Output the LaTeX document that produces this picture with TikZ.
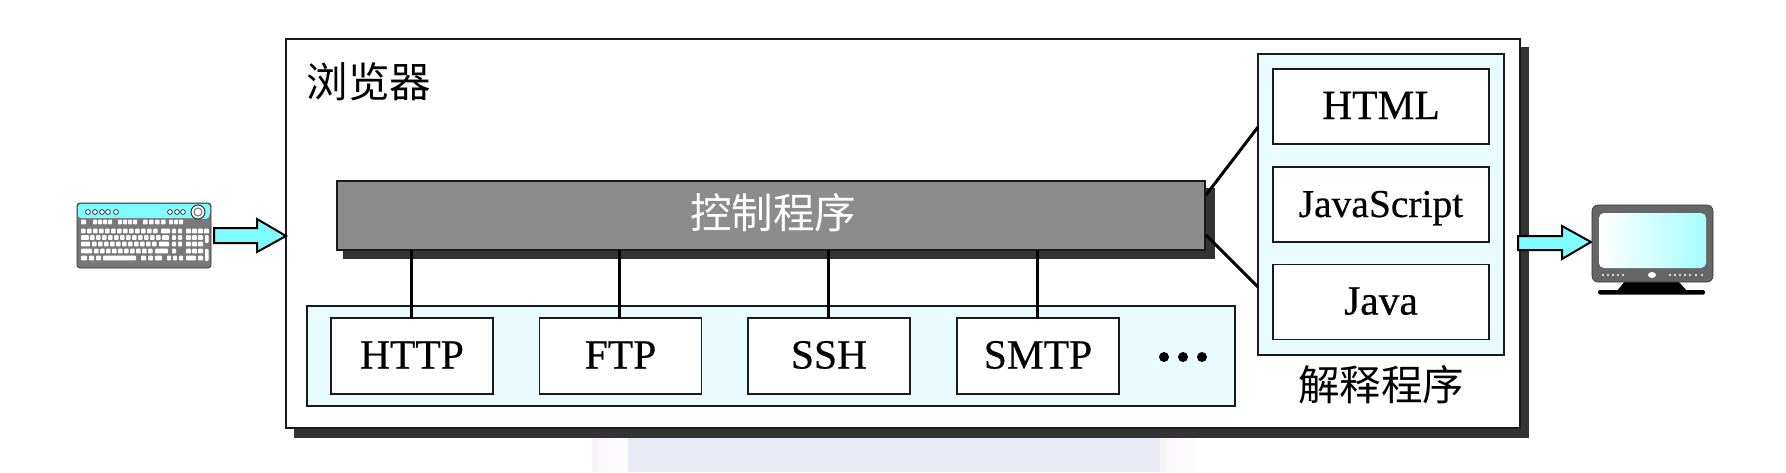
\documentclass[tikz,border=0pt]{standalone}
\usepackage{fontspec}
\setmainfont{Liberation Serif}
\newfontfamily\latinheavy{Liberation Serif}[FakeBold=0.5]
\newfontfamily\cjk{Noto Sans CJK SC}
\definecolor{paleCyan}{HTML}{E8FCFF}
\definecolor{arrowCyan}{HTML}{7FFCFF}
\definecolor{shadowGray}{HTML}{333333}
\definecolor{ctrlGray}{HTML}{8C8C8C}
\definecolor{edgeDark}{HTML}{1A1A1A}
\definecolor{markLav}{HTML}{E9E9F3}
\definecolor{markPale}{HTML}{F8F5F9}
\tikzset{
  x=1pt,y=-1pt,
  framebox/.style={draw=edgeDark,line width=1.6pt,rectangle,inner sep=0pt,outer sep=0pt},
  protobox/.style={framebox,fill=white,minimum width=162pt,minimum height=76pt,font=\latinheavy\fontsize{41.5}{41.5}\selectfont,text height=25pt,text depth=0pt},
  interpbox/.style={framebox,fill=white,minimum width=216pt,minimum height=75pt,font=\latinheavy\fontsize{41.5}{41.5}\selectfont,text height=25pt,text depth=0pt},
  panelbox/.style={framebox,fill=paleCyan},
  shadowbox/.style={fill=shadowGray},
  wire/.style={draw=black,line width=3pt},
  bigarrow/.style={draw=black,line width=2pt,fill=arrowCyan,line join=miter},
  cjklabel/.style={font=\cjk\fontsize{41.5}{41.5}\selectfont,inner sep=0pt},
  keycap/.style={fill=white,rounded corners=0.8pt},
}
\newcommand{\keyrow}[2]{\foreach \kx/\kw in {#2}{\fill[keycap] (\kx,#1-2.3) rectangle ++(\kw,4.6);}}
\begin{document}
\begin{tikzpicture}
\useasboundingbox (0,0) rectangle (1786,472);
\fill[white] (0,0) rectangle (1786,472);
% pale background mark
\foreach \st in {0,1,...,5}{
  \fill[markPale!\the\numexpr 100-\st*15\relax!white] (592+\st*6,430) rectangle ++(6.5,42);
}
\fill[markLav] (628,430) rectangle (1160,472);
\foreach \st in {0,1,...,5}{
  \fill[markPale!\the\numexpr 100-\st*15\relax!white] (1160+\st*6,430) rectangle ++(6.5,42);
}
% browser
\fill[shadowbox] (294,47) rectangle (1529,438);
\node[framebox,fill=white,minimum width=1234pt,minimum height=389pt] (browser) at (903,233.5) {};
\node[cjklabel] (browserlabel) at (369,82) {浏览器};
% lower band
\node[panelbox,minimum width=928pt,minimum height=100pt] (band) at (771,356) {};
% right panel
\node[panelbox,minimum width=246pt,minimum height=301pt] (panel) at (1381,204.5) {};
% protocol boxes
\node[protobox] (http) at (412,356) {HTTP};
\node[protobox] (ftp) at (620.5,356) {FTP};
\node[protobox] (ssh) at (829,356) {SSH};
\node[protobox] (smtp) at (1038,356) {SMTP};
% control bar
\fill[shadowbox] (343,188) rectangle (1215,259);
\node[framebox,fill=ctrlGray,minimum width=868pt,minimum height=69pt] (ctrl) at (771,215.5) {};
\node[cjklabel,text=white] (ctrllabel) at (773,213) {控制程序};
\draw[wire] ([xshift=-1pt]http.north) -- ([xshift=-1pt]ctrl.south -| http.north);
\draw[wire] ([xshift=-1pt]ftp.north) -- ([xshift=-1pt]ctrl.south -| ftp.north);
\draw[wire] ([xshift=-1pt]ssh.north) -- ([xshift=-1pt]ctrl.south -| ssh.north);
\draw[wire] ([xshift=-1pt]smtp.north) -- ([xshift=-1pt]ctrl.south -| smtp.north);
% connector end points on the control bar
\coordinate (ctrlup) at (1206,195);
\coordinate (ctrldown) at (1206,235);
\coordinate (panelup) at (1258,127);
\coordinate (paneldown) at (1258,287);
\draw[wire] (ctrlup) -- (panelup);
\draw[wire] (ctrldown) -- (paneldown);
% ellipsis
\node[circle,fill=black,minimum size=10pt,inner sep=0pt] (dota) at (1164,357) {};
\node[circle,fill=black,minimum size=10pt,inner sep=0pt] (dotb) at (1183,357) {};
\node[circle,fill=black,minimum size=10pt,inner sep=0pt] (dotc) at (1202,357) {};
% interpreters
\node[interpbox] (html) at (1381,106.5) {HTML};
\node[interpbox,font=\latinheavy\fontsize{39.5}{39.5}\selectfont] (js) at (1381,204.5) {JavaScript};
\node[interpbox] (java) at (1381,302) {Java};
\node[cjklabel] (interplabel) at (1381,385) {解释程序};
% input arrow
\draw[bigarrow] (214,228) -- (257,228) -- (257,219) -- (286,236) -- (257,252) -- (257,243) -- (214,243) -- cycle;
% output arrow
\draw[bigarrow] (1518,236) -- (1562,236) -- (1562,226) -- (1591,242) -- (1562,259) -- (1562,250) -- (1518,250) -- cycle;
% keyboard
\fill[gray!95!black,draw=shadowGray,line width=0.8pt,rounded corners=3pt] (77,203) rectangle (211,268);
\begin{scope}
\fill[arrowCyan,rounded corners=3pt] (78,204) -- (210,204) -- (210,214) .. controls (208,220) and (200,219) .. (190,218) -- (78,218) -- cycle;
\end{scope}
\foreach \cx in {88,95,102,108,116,170,177,183}{\draw[shadowGray,fill=white,line width=0.8pt] (\cx,212) circle (2.4);}
\draw[shadowGray,fill=white,line width=1pt] (198,212) circle (7);
\draw[gray,line width=1.2pt] (198,212) circle (4);
\keyrow{222}{81/5,93/4.2,98/4.2,103/4.2,108/4.2,118/4.2,123/4.2,128/4.2,133/4.2,143/4.6,149/4.6,155/4.6,161/4.6,169/4.2,174/4.2,179/4.2}
\keyrow{231}{81/4.6,87/4.6,93/4.6,99/4.6,105/4.6,111/4.6,117/4.6,123/4.6,129/4.6,135/4.6,141/4.6,147/4.6,153/4.6,161/9,172/4,178/4,186/5,192/5,198/5,204/5}
\keyrow{237.5}{81/8,90/4.6,96/4.6,102/4.6,108/4.6,114/4.6,120/4.6,126/4.6,132/4.6,138/4.6,144/4.6,150/4.6,156/4.6,162/7,172/4,178/4,186/5,192/5,198/5}
\keyrow{244}{81/9,92/4.6,98/4.6,104/4.6,110/4.6,116/4.6,122/4.6,128/4.6,134/4.6,140/4.6,146/4.6,152/4.6,159/10,172/4,178/4,186/5,192/5,198/5}
\keyrow{251}{81/11,94/4.6,100/4.6,106/4.6,112/4.6,118/4.6,124/4.6,130/4.6,136/4.6,142/4.6,148/4.6,155/13,172/4,186/5,192/5,198/5}
\keyrow{258}{81/6,89/5,96/5,103/33,141/5,148/5,155/7,167/4,173/4,179/4,186/10,198/5}
\fill[keycap] (205,235) rectangle ++(3.5,8);
\fill[keycap] (205,249) rectangle ++(3.5,12);
% monitor
\fill[black,rounded corners=1.5pt] (1598,290) rectangle (1705,294.5);
\fill[black] (1625,281) -- (1678,281) -- (1687,291) -- (1617,291) -- cycle;
\fill[gray!80!black,draw=shadowGray,line width=0.6pt,rounded corners=6pt] (1592,205) rectangle (1713,282);
\shade[left color=white,right color=arrowCyan!70!white,rounded corners=5pt] (1599,213) rectangle (1706,268);
\foreach \cx in {1603,1608,1613,1618,1623,1670,1675,1680,1685,1690,1696,1702}{\fill[white] (\cx,275) circle (1.1);}
\fill[white] (1652,275) ellipse (4 and 3);
\end{tikzpicture}
\end{document}
